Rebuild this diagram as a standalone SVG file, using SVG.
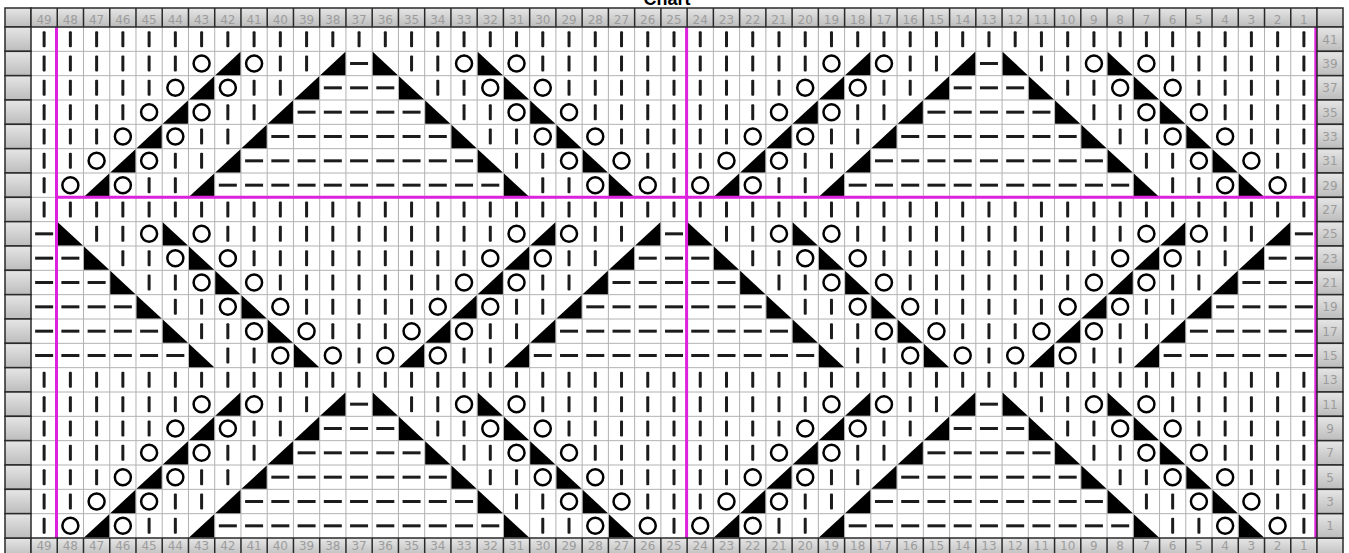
<svg xmlns="http://www.w3.org/2000/svg" width="1349" height="553" viewBox="0 0 1349 553">
<style>
.hb{fill:url(#gb);stroke:#2a2a2a;stroke-width:1.5}
.num{font-family:"DejaVu Sans",sans-serif;font-size:12px;fill:#9c9c9c;text-anchor:middle}
.grid{stroke:#b2b2b2;stroke-width:1;fill:none}
.dv{stroke:#2a2a2a;stroke-width:1.5;fill:none}
.mg{stroke:#dd22dd;stroke-width:3;fill:none}
.title{font-family:"Liberation Sans",Arial,sans-serif;font-size:18px;font-weight:bold;fill:#000;text-anchor:middle}
</style>
<defs>
<linearGradient id="gb" x1="0" y1="0" x2="0" y2="1"><stop offset="0" stop-color="#e6e6e6"/><stop offset="1" stop-color="#bcbcbc"/></linearGradient>
<g id="k"><rect x="-1.5" y="-8" width="3" height="16" rx="1" fill="#1c1c1c"/></g>
<g id="p"><rect x="-9" y="-1.5" width="18" height="3" fill="#1c1c1c"/></g>
<g id="o"><circle r="8" fill="none" stroke="#000" stroke-width="2.5"/></g>
<g id="r"><polygon points="-12.6,11.7 12.6,11.7 12.6,-11.7" fill="#000"/></g>
<g id="l"><polygon points="-12.6,-11.7 -12.6,11.7 12.6,11.7" fill="#000"/></g>
<g id="K"><use href="#k" x="0"/><use href="#k" x="26.25"/><use href="#k" x="52.49"/><use href="#k" x="78.74"/><use href="#k" x="104.98"/><use href="#k" x="131.23"/><use href="#k" x="157.47"/><use href="#k" x="183.72"/><use href="#k" x="209.96"/><use href="#k" x="236.21"/><use href="#k" x="262.45"/><use href="#k" x="288.7"/><use href="#k" x="314.94"/><use href="#k" x="341.19"/><use href="#k" x="367.43"/><use href="#k" x="393.68"/><use href="#k" x="419.92"/><use href="#k" x="446.17"/><use href="#k" x="472.41"/><use href="#k" x="498.66"/><use href="#k" x="524.9"/><use href="#k" x="551.15"/><use href="#k" x="577.39"/><use href="#k" x="603.64"/></g>
<g id="A0"><use href="#o" x="0"/><use href="#r" x="26.25"/><use href="#o" x="52.49"/><use href="#k" x="78.74"/><use href="#k" x="104.98"/><use href="#r" x="131.23"/><use href="#p" x="157.47"/><use href="#p" x="183.72"/><use href="#p" x="209.96"/><use href="#p" x="236.21"/><use href="#p" x="262.45"/><use href="#p" x="288.7"/><use href="#p" x="314.94"/><use href="#p" x="341.19"/><use href="#p" x="367.43"/><use href="#p" x="393.68"/><use href="#p" x="419.92"/><use href="#l" x="446.17"/><use href="#k" x="472.41"/><use href="#k" x="498.66"/><use href="#o" x="524.9"/><use href="#l" x="551.15"/><use href="#o" x="577.39"/><use href="#k" x="603.64"/></g>
<g id="A1"><use href="#k" x="0"/><use href="#o" x="26.25"/><use href="#r" x="52.49"/><use href="#o" x="78.74"/><use href="#k" x="104.98"/><use href="#k" x="131.23"/><use href="#r" x="157.47"/><use href="#p" x="183.72"/><use href="#p" x="209.96"/><use href="#p" x="236.21"/><use href="#p" x="262.45"/><use href="#p" x="288.7"/><use href="#p" x="314.94"/><use href="#p" x="341.19"/><use href="#p" x="367.43"/><use href="#p" x="393.68"/><use href="#l" x="419.92"/><use href="#k" x="446.17"/><use href="#k" x="472.41"/><use href="#o" x="498.66"/><use href="#l" x="524.9"/><use href="#o" x="551.15"/><use href="#k" x="577.39"/><use href="#k" x="603.64"/></g>
<g id="A2"><use href="#k" x="0"/><use href="#k" x="26.25"/><use href="#o" x="52.49"/><use href="#r" x="78.74"/><use href="#o" x="104.98"/><use href="#k" x="131.23"/><use href="#k" x="157.47"/><use href="#r" x="183.72"/><use href="#p" x="209.96"/><use href="#p" x="236.21"/><use href="#p" x="262.45"/><use href="#p" x="288.7"/><use href="#p" x="314.94"/><use href="#p" x="341.19"/><use href="#p" x="367.43"/><use href="#l" x="393.68"/><use href="#k" x="419.92"/><use href="#k" x="446.17"/><use href="#o" x="472.41"/><use href="#l" x="498.66"/><use href="#o" x="524.9"/><use href="#k" x="551.15"/><use href="#k" x="577.39"/><use href="#k" x="603.64"/></g>
<g id="A3"><use href="#k" x="0"/><use href="#k" x="26.25"/><use href="#k" x="52.49"/><use href="#o" x="78.74"/><use href="#r" x="104.98"/><use href="#o" x="131.23"/><use href="#k" x="157.47"/><use href="#k" x="183.72"/><use href="#r" x="209.96"/><use href="#p" x="236.21"/><use href="#p" x="262.45"/><use href="#p" x="288.7"/><use href="#p" x="314.94"/><use href="#p" x="341.19"/><use href="#l" x="367.43"/><use href="#k" x="393.68"/><use href="#k" x="419.92"/><use href="#o" x="446.17"/><use href="#l" x="472.41"/><use href="#o" x="498.66"/><use href="#k" x="524.9"/><use href="#k" x="551.15"/><use href="#k" x="577.39"/><use href="#k" x="603.64"/></g>
<g id="A4"><use href="#k" x="0"/><use href="#k" x="26.25"/><use href="#k" x="52.49"/><use href="#k" x="78.74"/><use href="#o" x="104.98"/><use href="#r" x="131.23"/><use href="#o" x="157.47"/><use href="#k" x="183.72"/><use href="#k" x="209.96"/><use href="#r" x="236.21"/><use href="#p" x="262.45"/><use href="#p" x="288.7"/><use href="#p" x="314.94"/><use href="#l" x="341.19"/><use href="#k" x="367.43"/><use href="#k" x="393.68"/><use href="#o" x="419.92"/><use href="#l" x="446.17"/><use href="#o" x="472.41"/><use href="#k" x="498.66"/><use href="#k" x="524.9"/><use href="#k" x="551.15"/><use href="#k" x="577.39"/><use href="#k" x="603.64"/></g>
<g id="A5"><use href="#k" x="0"/><use href="#k" x="26.25"/><use href="#k" x="52.49"/><use href="#k" x="78.74"/><use href="#k" x="104.98"/><use href="#o" x="131.23"/><use href="#r" x="157.47"/><use href="#o" x="183.72"/><use href="#k" x="209.96"/><use href="#k" x="236.21"/><use href="#r" x="262.45"/><use href="#p" x="288.7"/><use href="#l" x="314.94"/><use href="#k" x="341.19"/><use href="#k" x="367.43"/><use href="#o" x="393.68"/><use href="#l" x="419.92"/><use href="#o" x="446.17"/><use href="#k" x="472.41"/><use href="#k" x="498.66"/><use href="#k" x="524.9"/><use href="#k" x="551.15"/><use href="#k" x="577.39"/><use href="#k" x="603.64"/></g>
<g id="B0"><use href="#p" x="0"/><use href="#p" x="26.25"/><use href="#p" x="52.49"/><use href="#p" x="78.74"/><use href="#p" x="104.98"/><use href="#l" x="131.23"/><use href="#k" x="157.47"/><use href="#k" x="183.72"/><use href="#o" x="209.96"/><use href="#l" x="236.21"/><use href="#o" x="262.45"/><use href="#k" x="288.7"/><use href="#o" x="314.94"/><use href="#r" x="341.19"/><use href="#o" x="367.43"/><use href="#k" x="393.68"/><use href="#k" x="419.92"/><use href="#r" x="446.17"/><use href="#p" x="472.41"/><use href="#p" x="498.66"/><use href="#p" x="524.9"/><use href="#p" x="551.15"/><use href="#p" x="577.39"/><use href="#p" x="603.64"/></g>
<g id="B1"><use href="#p" x="0"/><use href="#p" x="26.25"/><use href="#p" x="52.49"/><use href="#p" x="78.74"/><use href="#l" x="104.98"/><use href="#k" x="131.23"/><use href="#k" x="157.47"/><use href="#o" x="183.72"/><use href="#l" x="209.96"/><use href="#o" x="236.21"/><use href="#k" x="262.45"/><use href="#k" x="288.7"/><use href="#k" x="314.94"/><use href="#o" x="341.19"/><use href="#r" x="367.43"/><use href="#o" x="393.68"/><use href="#k" x="419.92"/><use href="#k" x="446.17"/><use href="#r" x="472.41"/><use href="#p" x="498.66"/><use href="#p" x="524.9"/><use href="#p" x="551.15"/><use href="#p" x="577.39"/><use href="#p" x="603.64"/></g>
<g id="B2"><use href="#p" x="0"/><use href="#p" x="26.25"/><use href="#p" x="52.49"/><use href="#l" x="78.74"/><use href="#k" x="104.98"/><use href="#k" x="131.23"/><use href="#o" x="157.47"/><use href="#l" x="183.72"/><use href="#o" x="209.96"/><use href="#k" x="236.21"/><use href="#k" x="262.45"/><use href="#k" x="288.7"/><use href="#k" x="314.94"/><use href="#k" x="341.19"/><use href="#o" x="367.43"/><use href="#r" x="393.68"/><use href="#o" x="419.92"/><use href="#k" x="446.17"/><use href="#k" x="472.41"/><use href="#r" x="498.66"/><use href="#p" x="524.9"/><use href="#p" x="551.15"/><use href="#p" x="577.39"/><use href="#p" x="603.64"/></g>
<g id="B3"><use href="#p" x="0"/><use href="#p" x="26.25"/><use href="#l" x="52.49"/><use href="#k" x="78.74"/><use href="#k" x="104.98"/><use href="#o" x="131.23"/><use href="#l" x="157.47"/><use href="#o" x="183.72"/><use href="#k" x="209.96"/><use href="#k" x="236.21"/><use href="#k" x="262.45"/><use href="#k" x="288.7"/><use href="#k" x="314.94"/><use href="#k" x="341.19"/><use href="#k" x="367.43"/><use href="#o" x="393.68"/><use href="#r" x="419.92"/><use href="#o" x="446.17"/><use href="#k" x="472.41"/><use href="#k" x="498.66"/><use href="#r" x="524.9"/><use href="#p" x="551.15"/><use href="#p" x="577.39"/><use href="#p" x="603.64"/></g>
<g id="B4"><use href="#p" x="0"/><use href="#l" x="26.25"/><use href="#k" x="52.49"/><use href="#k" x="78.74"/><use href="#o" x="104.98"/><use href="#l" x="131.23"/><use href="#o" x="157.47"/><use href="#k" x="183.72"/><use href="#k" x="209.96"/><use href="#k" x="236.21"/><use href="#k" x="262.45"/><use href="#k" x="288.7"/><use href="#k" x="314.94"/><use href="#k" x="341.19"/><use href="#k" x="367.43"/><use href="#k" x="393.68"/><use href="#o" x="419.92"/><use href="#r" x="446.17"/><use href="#o" x="472.41"/><use href="#k" x="498.66"/><use href="#k" x="524.9"/><use href="#r" x="551.15"/><use href="#p" x="577.39"/><use href="#p" x="603.64"/></g>
<g id="B5"><use href="#l" x="0"/><use href="#k" x="26.25"/><use href="#k" x="52.49"/><use href="#o" x="78.74"/><use href="#l" x="104.98"/><use href="#o" x="131.23"/><use href="#k" x="157.47"/><use href="#k" x="183.72"/><use href="#k" x="209.96"/><use href="#k" x="236.21"/><use href="#k" x="262.45"/><use href="#k" x="288.7"/><use href="#k" x="314.94"/><use href="#k" x="341.19"/><use href="#k" x="367.43"/><use href="#k" x="393.68"/><use href="#k" x="419.92"/><use href="#o" x="446.17"/><use href="#r" x="472.41"/><use href="#o" x="498.66"/><use href="#k" x="524.9"/><use href="#k" x="551.15"/><use href="#r" x="577.39"/><use href="#p" x="603.64"/></g>
<g id="hdrnums">
<text class="num" x="44.12">49</text><text class="num" x="70.37">48</text><text class="num" x="96.61">47</text><text class="num" x="122.86">46</text><text class="num" x="149.1">45</text><text class="num" x="175.35">44</text><text class="num" x="201.59">43</text><text class="num" x="227.84">42</text><text class="num" x="254.08">41</text><text class="num" x="280.33">40</text><text class="num" x="306.57">39</text><text class="num" x="332.82">38</text><text class="num" x="359.06">37</text><text class="num" x="385.31">36</text><text class="num" x="411.55">35</text><text class="num" x="437.8">34</text><text class="num" x="464.04">33</text><text class="num" x="490.29">32</text><text class="num" x="516.53">31</text><text class="num" x="542.78">30</text><text class="num" x="569.02">29</text><text class="num" x="595.27">28</text><text class="num" x="621.51">27</text><text class="num" x="647.76">26</text><text class="num" x="674">25</text><text class="num" x="700.25">24</text><text class="num" x="726.49">23</text><text class="num" x="752.74">22</text><text class="num" x="778.98">21</text><text class="num" x="805.23">20</text><text class="num" x="831.47">19</text><text class="num" x="857.72">18</text><text class="num" x="883.96">17</text><text class="num" x="910.21">16</text><text class="num" x="936.45">15</text><text class="num" x="962.7">14</text><text class="num" x="988.94">13</text><text class="num" x="1015.19">12</text><text class="num" x="1041.43">11</text><text class="num" x="1067.68">10</text><text class="num" x="1093.92">9</text><text class="num" x="1120.17">8</text><text class="num" x="1146.41">7</text><text class="num" x="1172.66">6</text><text class="num" x="1198.9">5</text><text class="num" x="1225.15">4</text><text class="num" x="1251.39">3</text><text class="num" x="1277.64">2</text><text class="num" x="1303.88">1</text>
</g>
<path id="hdrdiv" d="M57.25 0v19M83.49 0v19M109.74 0v19M135.98 0v19M162.23 0v19M188.47 0v19M214.72 0v19M240.96 0v19M267.21 0v19M293.45 0v19M319.7 0v19M345.94 0v19M372.19 0v19M398.43 0v19M424.68 0v19M450.92 0v19M477.17 0v19M503.41 0v19M529.66 0v19M555.9 0v19M582.15 0v19M608.39 0v19M634.64 0v19M660.88 0v19M687.13 0v19M713.37 0v19M739.62 0v19M765.86 0v19M792.11 0v19M818.35 0v19M844.6 0v19M870.84 0v19M897.09 0v19M923.33 0v19M949.58 0v19M975.82 0v19M1002.07 0v19M1028.31 0v19M1054.56 0v19M1080.8 0v19M1107.05 0v19M1133.29 0v19M1159.54 0v19M1185.78 0v19M1212.03 0v19M1238.27 0v19M1264.52 0v19M1290.76 0v19"/>
</defs>
<rect width="1349" height="553" fill="#fff"/>
<text class="title" x="667" y="5">Chart</text>
<g id="grid">
<rect x="31" y="27" width="1286" height="511" fill="#fff"/>
<path class="grid" d="M57.25 27V538M83.49 27V538M109.74 27V538M135.98 27V538M162.23 27V538M188.47 27V538M214.72 27V538M240.96 27V538M267.21 27V538M293.45 27V538M319.7 27V538M345.94 27V538M372.19 27V538M398.43 27V538M424.68 27V538M450.92 27V538M477.17 27V538M503.41 27V538M529.66 27V538M555.9 27V538M582.15 27V538M608.39 27V538M634.64 27V538M660.88 27V538M687.13 27V538M713.37 27V538M739.62 27V538M765.86 27V538M792.11 27V538M818.35 27V538M844.6 27V538M870.84 27V538M897.09 27V538M923.33 27V538M949.58 27V538M975.82 27V538M1002.07 27V538M1028.31 27V538M1054.56 27V538M1080.8 27V538M1107.05 27V538M1133.29 27V538M1159.54 27V538M1185.78 27V538M1212.03 27V538M1238.27 27V538M1264.52 27V538M1290.76 27V538M31 51.33H1317M31 75.67H1317M31 100H1317M31 124.33H1317M31 148.67H1317M31 173H1317M31 197.33H1317M31 221.67H1317M31 246H1317M31 270.33H1317M31 294.67H1317M31 319H1317M31 343.33H1317M31 367.67H1317M31 392H1317M31 416.33H1317M31 440.67H1317M31 465H1317M31 489.33H1317M31 513.67H1317"/>
</g>
<g id="stitches">
<use href="#K" x="70.37" y="39.17"/><use href="#K" x="700.25" y="39.17"/><use href="#k" x="44.12" y="39.17"/>
<use href="#A5" x="70.37" y="63.5"/><use href="#A5" x="700.25" y="63.5"/><use href="#k" x="44.12" y="63.5"/>
<use href="#A4" x="70.37" y="87.83"/><use href="#A4" x="700.25" y="87.83"/><use href="#k" x="44.12" y="87.83"/>
<use href="#A3" x="70.37" y="112.17"/><use href="#A3" x="700.25" y="112.17"/><use href="#k" x="44.12" y="112.17"/>
<use href="#A2" x="70.37" y="136.5"/><use href="#A2" x="700.25" y="136.5"/><use href="#k" x="44.12" y="136.5"/>
<use href="#A1" x="70.37" y="160.83"/><use href="#A1" x="700.25" y="160.83"/><use href="#k" x="44.12" y="160.83"/>
<use href="#A0" x="70.37" y="185.17"/><use href="#A0" x="700.25" y="185.17"/><use href="#k" x="44.12" y="185.17"/>
<use href="#K" x="70.37" y="209.5"/><use href="#K" x="700.25" y="209.5"/><use href="#k" x="44.12" y="209.5"/>
<use href="#B5" x="70.37" y="233.83"/><use href="#B5" x="700.25" y="233.83"/><use href="#p" x="44.12" y="233.83"/>
<use href="#B4" x="70.37" y="258.17"/><use href="#B4" x="700.25" y="258.17"/><use href="#p" x="44.12" y="258.17"/>
<use href="#B3" x="70.37" y="282.5"/><use href="#B3" x="700.25" y="282.5"/><use href="#p" x="44.12" y="282.5"/>
<use href="#B2" x="70.37" y="306.83"/><use href="#B2" x="700.25" y="306.83"/><use href="#p" x="44.12" y="306.83"/>
<use href="#B1" x="70.37" y="331.17"/><use href="#B1" x="700.25" y="331.17"/><use href="#p" x="44.12" y="331.17"/>
<use href="#B0" x="70.37" y="355.5"/><use href="#B0" x="700.25" y="355.5"/><use href="#p" x="44.12" y="355.5"/>
<use href="#K" x="70.37" y="379.83"/><use href="#K" x="700.25" y="379.83"/><use href="#k" x="44.12" y="379.83"/>
<use href="#A5" x="70.37" y="404.17"/><use href="#A5" x="700.25" y="404.17"/><use href="#k" x="44.12" y="404.17"/>
<use href="#A4" x="70.37" y="428.5"/><use href="#A4" x="700.25" y="428.5"/><use href="#k" x="44.12" y="428.5"/>
<use href="#A3" x="70.37" y="452.83"/><use href="#A3" x="700.25" y="452.83"/><use href="#k" x="44.12" y="452.83"/>
<use href="#A2" x="70.37" y="477.17"/><use href="#A2" x="700.25" y="477.17"/><use href="#k" x="44.12" y="477.17"/>
<use href="#A1" x="70.37" y="501.5"/><use href="#A1" x="700.25" y="501.5"/><use href="#k" x="44.12" y="501.5"/>
<use href="#A0" x="70.37" y="525.83"/><use href="#A0" x="700.25" y="525.83"/><use href="#k" x="44.12" y="525.83"/>
</g>
<g id="repeat-lines">
<path class="mg" d="M56.5 27V538M686.6 27V538M1315.8 27V538M56.5 197.33H1315.8"/>
</g>
<g id="col-header-top">
<rect class="hb" x="5" y="8" width="26" height="19"/>
<rect class="hb" x="31" y="8" width="1286" height="19"/>
<rect class="hb" x="1317" y="8" width="26" height="19"/>
<use href="#hdrdiv" class="dv" y="8"/>
<use href="#hdrnums" y="24"/>
</g>
<g id="col-header-bottom">
<rect class="hb" x="5" y="538" width="26" height="19"/>
<rect class="hb" x="31" y="538" width="1286" height="19"/>
<rect class="hb" x="1317" y="538" width="26" height="19"/>
<use href="#hdrdiv" class="dv" y="538"/>
<use href="#hdrnums" y="550"/>
</g>
<g id="row-labels-left">
<rect class="hb" x="5" y="27" width="26" height="24.33"/><rect class="hb" x="5" y="51.33" width="26" height="24.33"/><rect class="hb" x="5" y="75.67" width="26" height="24.33"/><rect class="hb" x="5" y="100" width="26" height="24.33"/><rect class="hb" x="5" y="124.33" width="26" height="24.33"/><rect class="hb" x="5" y="148.67" width="26" height="24.33"/><rect class="hb" x="5" y="173" width="26" height="24.33"/><rect class="hb" x="5" y="197.33" width="26" height="24.33"/><rect class="hb" x="5" y="221.67" width="26" height="24.33"/><rect class="hb" x="5" y="246" width="26" height="24.33"/><rect class="hb" x="5" y="270.33" width="26" height="24.33"/><rect class="hb" x="5" y="294.67" width="26" height="24.33"/><rect class="hb" x="5" y="319" width="26" height="24.33"/><rect class="hb" x="5" y="343.33" width="26" height="24.33"/><rect class="hb" x="5" y="367.67" width="26" height="24.33"/><rect class="hb" x="5" y="392" width="26" height="24.33"/><rect class="hb" x="5" y="416.33" width="26" height="24.33"/><rect class="hb" x="5" y="440.67" width="26" height="24.33"/><rect class="hb" x="5" y="465" width="26" height="24.33"/><rect class="hb" x="5" y="489.33" width="26" height="24.33"/><rect class="hb" x="5" y="513.67" width="26" height="24.33"/>
</g>
<g id="row-labels-right">
<rect class="hb" x="1317" y="27" width="26" height="24.33"/><rect class="hb" x="1317" y="51.33" width="26" height="24.33"/><rect class="hb" x="1317" y="75.67" width="26" height="24.33"/><rect class="hb" x="1317" y="100" width="26" height="24.33"/><rect class="hb" x="1317" y="124.33" width="26" height="24.33"/><rect class="hb" x="1317" y="148.67" width="26" height="24.33"/><rect class="hb" x="1317" y="173" width="26" height="24.33"/><rect class="hb" x="1317" y="197.33" width="26" height="24.33"/><rect class="hb" x="1317" y="221.67" width="26" height="24.33"/><rect class="hb" x="1317" y="246" width="26" height="24.33"/><rect class="hb" x="1317" y="270.33" width="26" height="24.33"/><rect class="hb" x="1317" y="294.67" width="26" height="24.33"/><rect class="hb" x="1317" y="319" width="26" height="24.33"/><rect class="hb" x="1317" y="343.33" width="26" height="24.33"/><rect class="hb" x="1317" y="367.67" width="26" height="24.33"/><rect class="hb" x="1317" y="392" width="26" height="24.33"/><rect class="hb" x="1317" y="416.33" width="26" height="24.33"/><rect class="hb" x="1317" y="440.67" width="26" height="24.33"/><rect class="hb" x="1317" y="465" width="26" height="24.33"/><rect class="hb" x="1317" y="489.33" width="26" height="24.33"/><rect class="hb" x="1317" y="513.67" width="26" height="24.33"/>
<text class="num" x="1330" y="43.6">41</text><text class="num" x="1330" y="67.9">39</text><text class="num" x="1330" y="92.3">37</text><text class="num" x="1330" y="116.6">35</text><text class="num" x="1330" y="140.9">33</text><text class="num" x="1330" y="165.3">31</text><text class="num" x="1330" y="189.6">29</text><text class="num" x="1330" y="213.9">27</text><text class="num" x="1330" y="238.3">25</text><text class="num" x="1330" y="262.6">23</text><text class="num" x="1330" y="286.9">21</text><text class="num" x="1330" y="311.3">19</text><text class="num" x="1330" y="335.6">17</text><text class="num" x="1330" y="359.9">15</text><text class="num" x="1330" y="384.3">13</text><text class="num" x="1330" y="408.6">11</text><text class="num" x="1330" y="432.9">9</text><text class="num" x="1330" y="457.3">7</text><text class="num" x="1330" y="481.6">5</text><text class="num" x="1330" y="505.9">3</text><text class="num" x="1330" y="530.3">1</text>
</g>
</svg>
